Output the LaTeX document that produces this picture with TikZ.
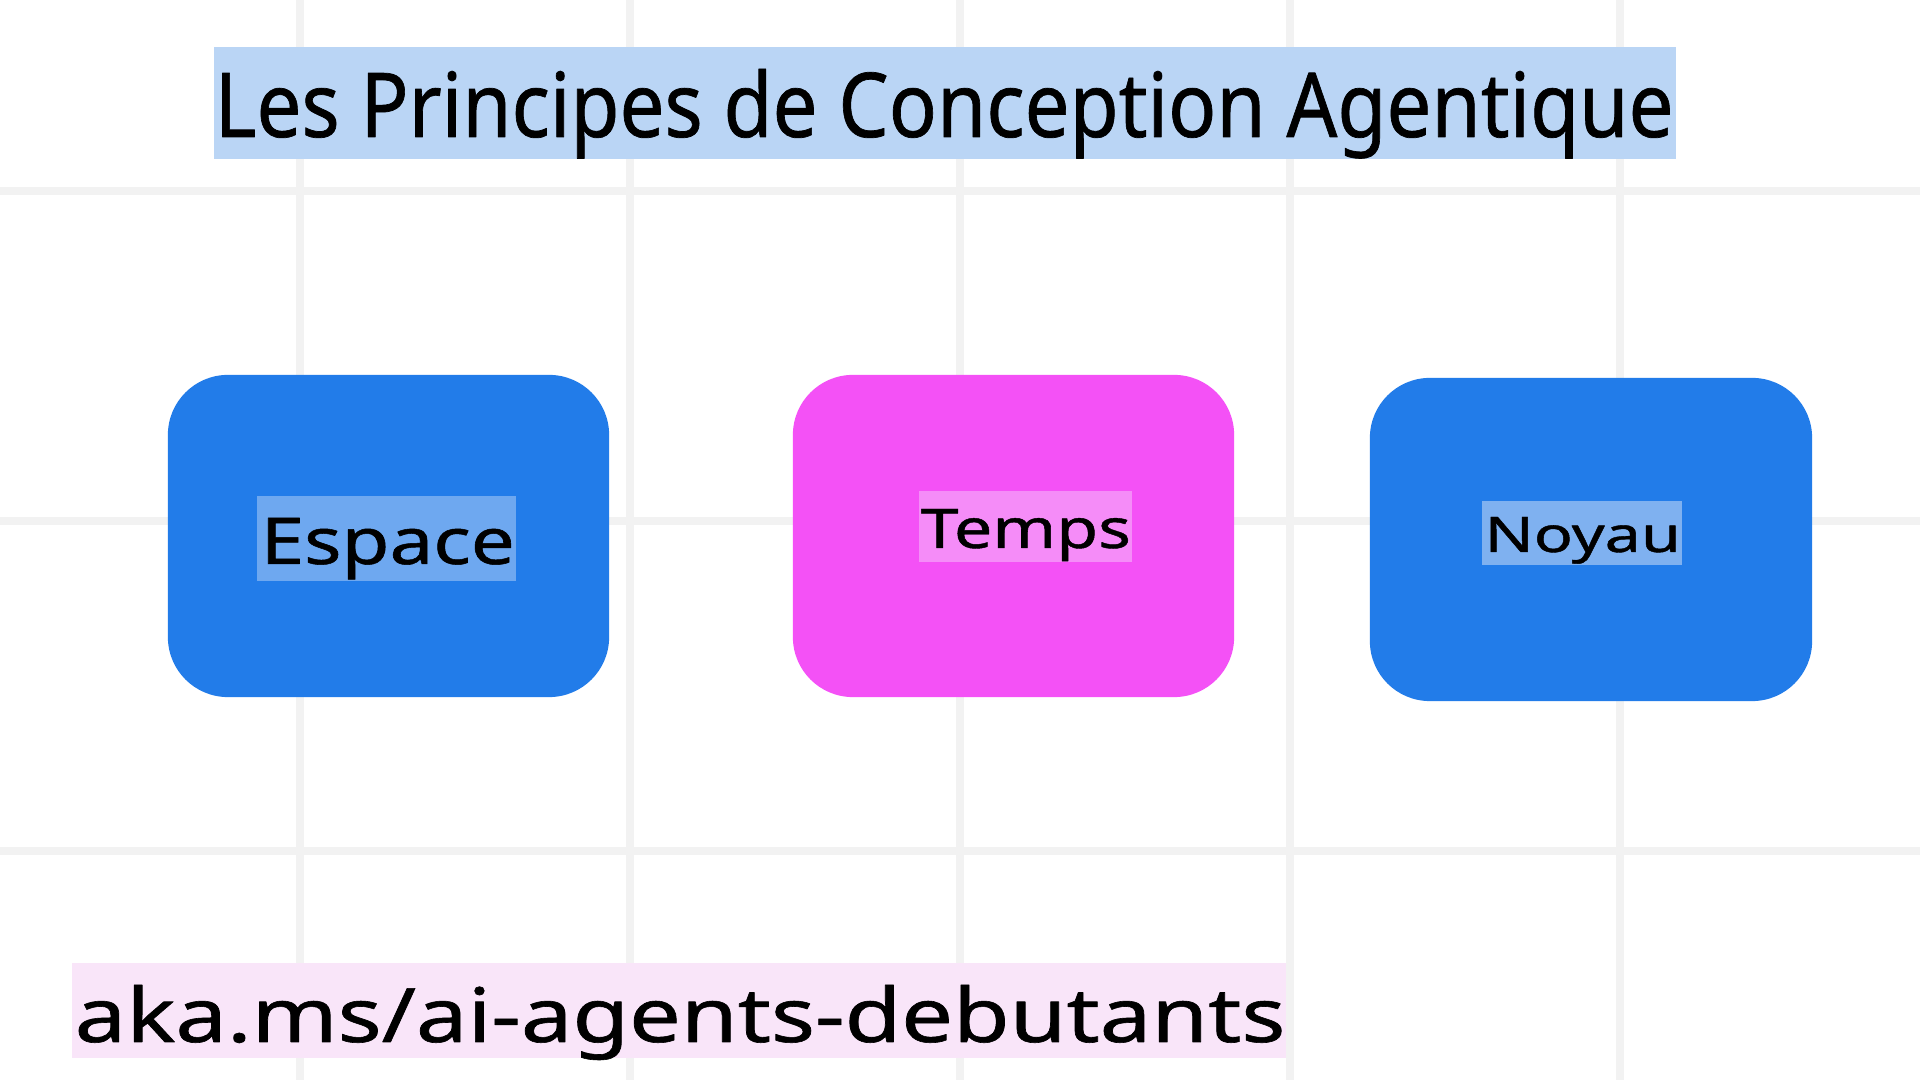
\documentclass[tikz,border=0pt]{standalone}
\usepackage{fontspec}
\usepackage{graphicx}
\setmainfont{Noto Sans}[FakeBold=0.8]
\definecolor{gridgray}{rgb}{0.949,0.949,0.949}
\definecolor{boxblue}{rgb}{0.133,0.486,0.914}
\definecolor{boxpink}{rgb}{0.957,0.318,0.965}
\definecolor{tagblue}{rgb}{0.431,0.659,0.941}
\definecolor{tagbluelight}{rgb}{0.498,0.694,0.941}
\definecolor{tagpink}{rgb}{0.961,0.549,0.973}
\definecolor{titleblue}{rgb}{0.729,0.835,0.961}
\definecolor{linkpink}{rgb}{0.976,0.898,0.976}
\begin{document}
\begin{tikzpicture}[line cap=butt,line join=round,x=0.01cm,y=-0.01cm,
  box/.style={rounded corners=0.6cm,inner sep=0pt,minimum width=4.41cm,minimum height=3.22cm},
  txt/.style={anchor=base west,inner sep=0pt,font=\fontsize{40}{48}\selectfont}]
\useasboundingbox (0,0) rectangle (1920,1080);
\fill [white] (0,0) rectangle (1920,1080);
% grid
\foreach \gx in {300,630,960,1290,1620}
  \draw [color=gridgray,line width=0.08cm] (\gx,0) -- (\gx,1080);
\foreach \gy in {191,521,851}
  \draw [color=gridgray,line width=0.08cm] (0,\gy) -- (1920,\gy);
% title
\fill [color=titleblue] (214,47) rectangle (1676,159);
\node [txt] (titre) at (214,137) {\resizebox{14.58cm}{0.68cm}{Les Principes de Conception Agentique}};
% boxes
\node [box,fill=boxblue] (espace) at (388.5,536) {};
\node [box,fill=boxpink] (temps) at (1013.5,536) {};
\node [box,fill=boxblue,minimum width=4.42cm,minimum height=3.23cm] (noyau) at (1591,539.5) {};
\fill [color=tagblue] (257,496) rectangle (516,581);
\fill [color=tagpink] (919,491) rectangle (1132,562);
\fill [color=tagbluelight] (1482,501) rectangle (1682,565);
\node [txt] (espacetxt) at (260,564) {\resizebox{2.54cm}{0.46cm}{Espace}};
\node [txt] (tempstxt) at (920,548) {\resizebox{2.10cm}{0.39cm}{Temps}};
\node [txt] (noyautxt) at (1484,552) {\resizebox{1.96cm}{0.35cm}{Noyau}};
% link
\fill [color=linkpink] (72,963) rectangle (1286,1058);
\node [txt] (lien) at (74,1042) {\resizebox{12.10cm}{0.57cm}{aka.ms/ai-agents-debutants}};
\end{tikzpicture}
\end{document}
